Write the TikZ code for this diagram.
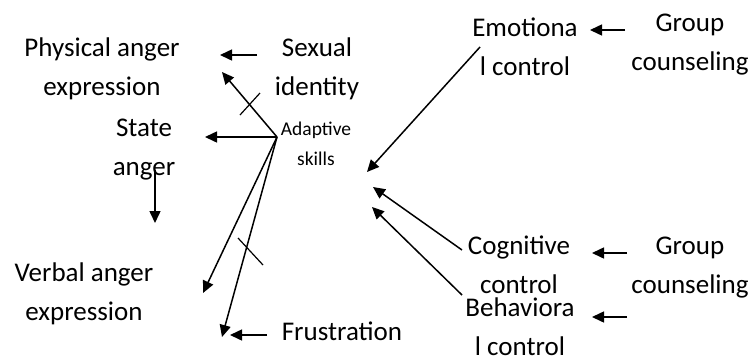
\documentclass[tikz,border=0pt]{standalone}
\usepackage{fontspec}
\setmainfont{Carlito}
\usetikzlibrary{arrows.meta}
\begin{document}
\begin{tikzpicture}[x=1pt,y=-1pt,
  lbl/.style={anchor=base,inner sep=0pt,align=center,font=\fontsize{27}{39}\selectfont},
  small/.style={anchor=base,inner sep=0pt,align=center,font=\fontsize{19.5}{30}\selectfont},
  arr/.style={line width=1.5pt,-{Triangle[length=12pt,width=11pt]}},
  tick/.style={line width=1.2pt}]
\useasboundingbox (0,0) rectangle (753,362);
% labels (anchor = baseline of last line)
\node[lbl] (phys) at (102,95) {Physical anger\\expression};
\node[lbl] (sex) at (317,95) {Sexual\\identity};
\node[lbl] (state) at (144,175) {State\\anger};
\node[small] (adapt) at (316,165) {Adaptive\\skills};
\node[lbl] (verbal) at (84,320) {Verbal anger\\expression};
\node[lbl] (frus) at (342,340) {Frustration};
\node[lbl] (emo) at (525,75) {Emotiona\\l control};
\node[lbl] (grp1) at (690,70) {Group\\counseling};
\node[lbl] (cog) at (519,293) {Cognitive\\control};
\node[lbl] (beh) at (520,355) {Behaviora\\l control};
\node[lbl] (grp2) at (690,293) {Group\\counseling};
% coordinates
\coordinate (hub) at (277,137);
\coordinate (sexT) at (257,55);
\coordinate (physH) at (220,55);
\coordinate (physH2) at (222,72);
\coordinate (stateH) at (205,137);
\coordinate (stT) at (155,170);
\coordinate (stH) at (155,223);
\coordinate (verbH) at (203,293);
\coordinate (frusH) at (222,337);
\coordinate (frT) at (267,335);
\coordinate (frH) at (230,335);
\coordinate (emoT) at (480,47);
\coordinate (adH1) at (367,172);
\coordinate (cogT) at (462,250);
\coordinate (adH2) at (373,187);
\coordinate (behT) at (462,295);
\coordinate (adH3) at (372,207);
\coordinate (g1T) at (625,30);
\coordinate (g1H) at (590,30);
\coordinate (g2T) at (627,253);
\coordinate (g2H) at (592,253);
\coordinate (g3T) at (627,317);
\coordinate (g3H) at (592,317);
\coordinate (t1a) at (240,115);
\coordinate (t1b) at (260,93);
\coordinate (t2a) at (238,238);
\coordinate (t2b) at (263,265);
% connectors
\draw[arr] (sexT) -- (physH);
\draw[arr] (hub) -- (physH2);
\draw[tick] (t1a) -- (t1b);
\draw[arr] (hub) -- (stateH);
\draw[arr] (stT) -- (stH);
\draw[arr] (hub) -- (verbH);
\draw[arr] (hub) -- (frusH);
\draw[tick] (t2a) -- (t2b);
\draw[arr] (frT) -- (frH);
\draw[arr] (emoT) -- (adH1);
\draw[arr] (cogT) -- (adH2);
\draw[arr] (behT) -- (adH3);
\draw[arr] (g1T) -- (g1H);
\draw[arr] (g2T) -- (g2H);
\draw[arr] (g3T) -- (g3H);
\end{tikzpicture}
\end{document}
